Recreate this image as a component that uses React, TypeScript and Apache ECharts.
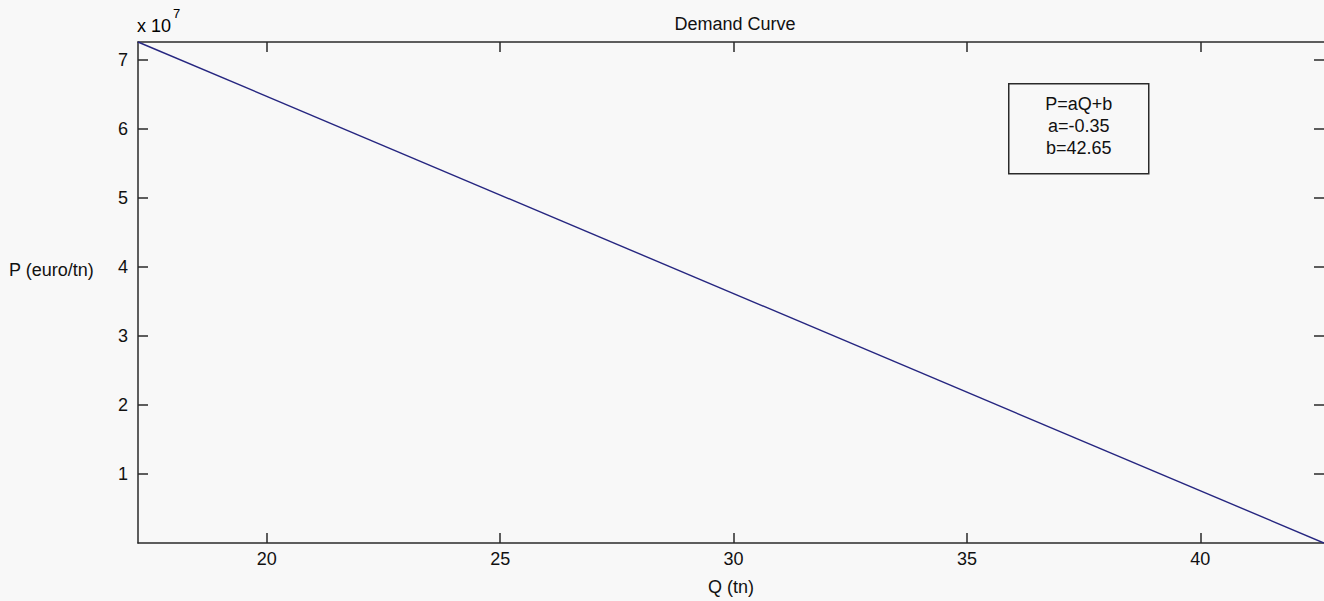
import React, { useEffect, useRef } from "react";
import * as echarts from "echarts";

// Demand line: quantity (tn) against price (euro/tn)
const quantity: number[] = [17.24, 42.65];
const price: number[] = [7.26e7, 0];

const xTicks: number[] = [20, 25, 30, 35, 40];
const yTicks: number[] = [1e7, 2e7, 3e7, 4e7, 5e7, 6e7, 7e7];
const yScale = 1e7;

const boxLines: string[] = ["P=aQ+b", "a=-0.35", "b=42.65"];

const FONT = "'Liberation Sans', Arial, Helvetica, sans-serif";
const AXIS_COLOR = "#2a2a2a";
const TEXT_COLOR = "#111111";
const FS = 18;

export default function App() {
  const ref = useRef<HTMLDivElement>(null);

  useEffect(() => {
    if (!ref.current) return;
    const chart = echarts.init(ref.current, undefined, { renderer: "svg" });

    const xMin = quantity[0];
    const xMax = quantity[quantity.length - 1];
    const yMax = price[0];

    const tickBase = {
      show: true,
      inside: true,
      length: 10,
      lineStyle: { color: AXIS_COLOR, width: 1.5 },
    };
    const lineBase = { show: true, onZero: false, lineStyle: { color: AXIS_COLOR, width: 1.5 } };

    chart.setOption({
      animation: false,
      backgroundColor: "#f8f8f8",
      textStyle: { fontFamily: FONT },
      title: {
        text: "Demand Curve",
        left: 730,
        top: 10,
        textAlign: "center",
        textStyle: { fontFamily: FONT, fontSize: FS, fontWeight: "normal", color: TEXT_COLOR },
      },
      grid: { left: 138, top: 42, right: 0, bottom: 54, containLabel: false },
      xAxis: [
        {
          type: "value",
          position: "bottom",
          min: xMin,
          max: xMax,
          axisLine: lineBase,
          axisTick: { ...tickBase, customValues: xTicks },
          axisLabel: {
            customValues: xTicks,
            margin: 7,
            fontSize: FS,
            fontFamily: FONT,
            color: TEXT_COLOR,
          },
          splitLine: { show: false },
          name: "Q (tn)",
          nameLocation: "middle",
          nameGap: 35,
          nameTextStyle: { fontSize: FS, fontFamily: FONT, color: TEXT_COLOR, verticalAlign: "top" },
        },
        {
          type: "value",
          position: "top",
          min: xMin,
          max: xMax,
          axisLine: lineBase,
          axisTick: { ...tickBase, customValues: xTicks },
          axisLabel: { show: false },
          splitLine: { show: false },
        },
      ],
      yAxis: [
        {
          type: "value",
          position: "left",
          min: 0,
          max: yMax,
          axisLine: lineBase,
          axisTick: { ...tickBase, customValues: yTicks },
          axisLabel: {
            customValues: yTicks,
            margin: 10,
            fontSize: FS,
            fontFamily: FONT,
            color: TEXT_COLOR,
            formatter: (v: number) => String(Math.round(v / yScale)),
          },
          splitLine: { show: false },
        },
        {
          type: "value",
          position: "right",
          min: 0,
          max: yMax,
          axisLine: { show: false },
          axisTick: { ...tickBase, customValues: yTicks },
          axisLabel: { show: false },
          splitLine: { show: false },
        },
      ],
      graphic: [
        {
          type: "text",
          left: 9,
          top: 261,
          style: {
            text: "P (euro/tn)",
            font: `${FS}px ${FONT}`,
            fill: TEXT_COLOR,
          },
        },
        {
          type: "text",
          left: 137,
          top: 7,
          style: {
            text: "{b|x 10}{s|7}",
            rich: {
              b: { fontSize: FS, fontFamily: FONT, color: TEXT_COLOR, verticalAlign: "bottom", lineHeight: 28 },
              s: { fontSize: 13, fontFamily: FONT, color: TEXT_COLOR, verticalAlign: "top", lineHeight: 28, padding: [0, 0, 0, 2] },
            },
          },
        },
        {
          type: "group",
          left: 1008,
          top: 83,
          children: [
            {
              type: "rect",
              shape: { x: 0, y: 0, width: 140, height: 90 },
              style: { fill: "#f8f8f8", stroke: AXIS_COLOR, lineWidth: 1.5 },
            },
            ...boxLines.map((t, i) => ({
              type: "text",
              x: 70,
              y: 20 + i * 22,
              style: {
                text: t,
                font: `${FS}px ${FONT}`,
                fill: TEXT_COLOR,
                align: "center",
                verticalAlign: "middle",
              },
            })),
          ],
        },
      ],
      series: [
        {
          type: "line",
          xAxisIndex: 0,
          yAxisIndex: 0,
          data: quantity.map((q, i) => [q, price[i]]),
          showSymbol: false,
          lineStyle: { color: "#262680", width: 1.4 },
        },
      ],
    });

    return () => chart.dispose();
  }, []);

  return (
    <div
      ref={ref}
      style={{ position: "fixed", left: 0, top: 0, width: 1324, height: 601 }}
    />
  );
}
